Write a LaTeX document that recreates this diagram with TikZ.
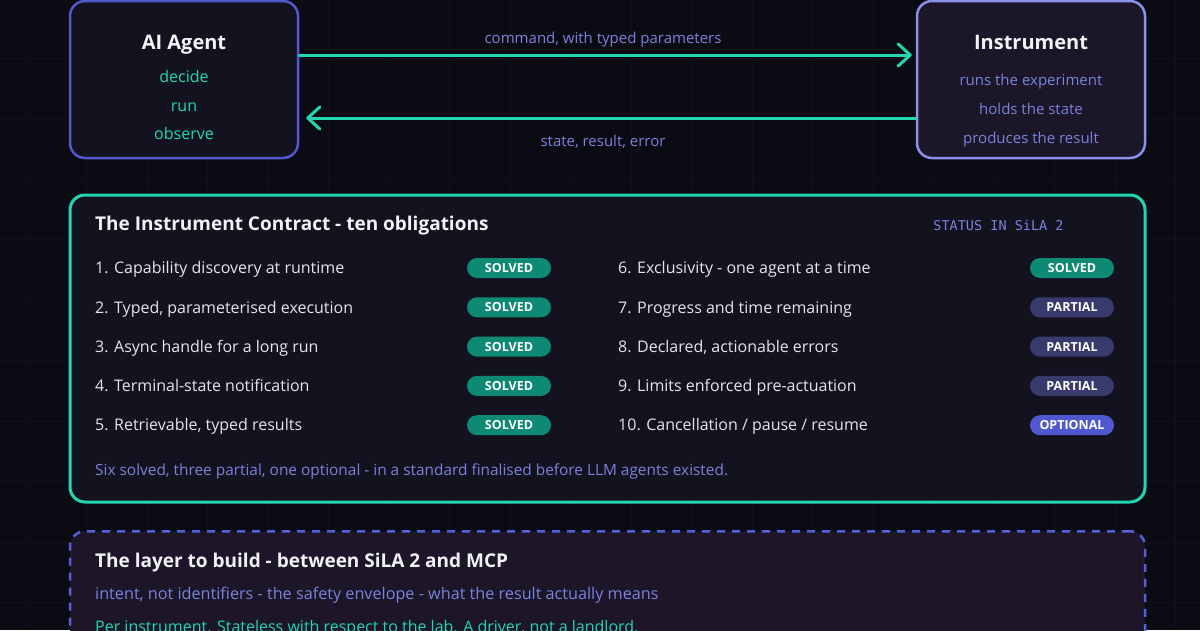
\documentclass[tikz,border=0pt]{standalone}
\usepackage{fontspec}
\setmainfont{Open Sans}
\newfontfamily\monof{DejaVu Sans Mono}
\usetikzlibrary{arrows.meta}
\definecolor{bg}{HTML}{0B0B14}
\definecolor{gridc}{HTML}{11111B}
\definecolor{agentfill}{HTML}{13131F}
\definecolor{agentborder}{HTML}{5159CC}
\definecolor{instrfill}{HTML}{1B1628}
\definecolor{instrborder}{HTML}{8B90EE}
\definecolor{teal}{HTML}{22D6B0}
\definecolor{lav}{HTML}{7B82DC}
\definecolor{whitet}{HTML}{F2F2F7}
\definecolor{itemt}{HTML}{E4E4EC}
\definecolor{solvedc}{HTML}{0E8A74}
\definecolor{partialc}{HTML}{383A6E}
\definecolor{optionalc}{HTML}{5058CF}
\definecolor{layerfill}{HTML}{1C1628}
\definecolor{layerborder}{HTML}{5560D8}
\newcommand\myfs[1]{\fontsize{#1}{#1}\selectfont}
\tikzset{
  box/.style={rectangle, rounded corners=15pt, line width=2.5pt, inner sep=0pt},
  title/.style={inner sep=0pt, text=whitet, font=\myfs{20}\bfseries, text height=14.4pt, text depth=0pt},
  htitle/.style={inner sep=0pt, anchor=west, text=whitet, font=\myfs{19}\bfseries, text height=13.7pt, text depth=0pt},
  sub/.style={inner sep=0pt, font=\myfs{16}, text height=11.5pt, text depth=0pt},
  lbl/.style={inner sep=0pt, text=lav, font=\myfs{15}, text height=10.8pt, text depth=0pt},
  item/.style={inner sep=0pt, anchor=west, text=itemt, font=\myfs{16}, text height=11.5pt, text depth=0pt},
  badge/.style={rectangle, rounded corners=10pt, minimum width=84pt, minimum height=20pt, inner sep=0pt, text=white, font=\myfs{12.5}\bfseries, text height=9pt, text depth=0pt},
  flow/.style={draw=teal, line width=3pt, line cap=round, -{Straight Barb[length=12pt,width=22pt,line width=3pt,round]}},
}
\begin{document}
\begin{tikzpicture}[x=1pt,y=-1pt]
\useasboundingbox (0,0) rectangle (1200,630);
\fill[bg] (0,0) rectangle (1200,630);
\foreach \x in {26,86.5,...,1200} \draw[gridc, line width=1pt] (\x,0) -- (\x,630);
\foreach \y in {-2.5,58,...,640} \draw[gridc, line width=1pt] (0,\y) -- (1200,\y);

% top boxes
\node[box, draw=agentborder, fill=agentfill, minimum width=228pt, minimum height=157pt] (agent) at (184,79.5) {};
\node[box, draw=instrborder, fill=instrfill, minimum width=228pt, minimum height=157pt] (instr) at (1031,79.5) {};
\node[title] (agentT) at (184,42) {AI Agent};
\node[sub, text=teal] (a1) at (184,77) {decide};
\node[sub, text=teal] (a2) at (184,106) {run};
\node[sub, text=teal] (a3) at (184,134) {observe};
\node[title] (instrT) at (1031,42) {Instrument};
\node[lbl] (i1) at (1031,80) {runs the experiment};
\node[lbl] (i2) at (1031,109) {holds the state};
\node[lbl] (i3) at (1031,138) {produces the result};

\draw[flow, shorten >=4pt] ([yshift=24.5pt]agent.east) -- ([yshift=24.5pt]instr.west);
\draw[flow, shorten >=7pt] ([yshift=-38.5pt]instr.west) -- ([yshift=-38.5pt]agent.east);
\node[lbl] (cmd) at (603,38) {command, with typed parameters};
\node[lbl] (ret) at (603,141) {state, result, error};

% contract
\node[box, draw=teal, line width=3pt, fill=agentfill, minimum width=1075pt, minimum height=307pt] (contract) at (607.5,348.5) {};
\node[htitle] (ctitle) at (95,224) {The Instrument Contract - ten obligations};
\node[inner sep=0pt, text=lav, font=\monof\myfs{13.5}, text height=9.8pt, text depth=0pt] (status) at (998.5,226) {STATUS IN SiLA 2};

\foreach \i/\t/\b/\c [count=\k from 0] in {
  1/{1. Capability discovery at runtime}/SOLVED/solvedc,
  2/{2. Typed, parameterised execution}/SOLVED/solvedc,
  3/{3. Async handle for a long run}/SOLVED/solvedc,
  4/{4. Terminal-state notification}/SOLVED/solvedc,
  5/{5. Retrievable, typed results}/SOLVED/solvedc}{
  \node[item] (l\i) at (95,{268+39.3*\k}) {\t};
  \node[badge, fill=\c] (bl\i) at (509,{268+39.3*\k}) {\b};
}
\foreach \i/\t/\b/\c [count=\k from 0] in {
  6/{6. Exclusivity - one agent at a time}/SOLVED/solvedc,
  7/{7. Progress and time remaining}/PARTIAL/partialc,
  8/{8. Declared, actionable errors}/PARTIAL/partialc,
  9/{9. Limits enforced pre-actuation}/PARTIAL/partialc,
  10/{10. Cancellation / pause / resume}/OPTIONAL/optionalc}{
  \node[item] (r\i) at (618,{268+39.3*\k}) {\t};
  \node[badge, fill=\c] (br\i) at (1072,{268+39.3*\k}) {\b};
}
\node[inner sep=0pt, anchor=west, text=lav, font=\myfs{15.4}, text height=11pt, text depth=0pt] (foot) at (95,470) {Six solved, three partial, one optional - in a standard finalised before LLM agents existed.};

% layer
\node[box, draw=layerborder, fill=layerfill, dash pattern=on 8pt off 7pt, minimum width=1075pt, minimum height=200pt, anchor=north] (layer) at (607.5,530) {};
\node[htitle] (ltitle) at (95,561) {The layer to build - between SiLA 2 and MCP};
\node[inner sep=0pt, anchor=west, text=lav, font=\myfs{16.2}, text height=11.6pt, text depth=0pt] (lsub) at (95,594) {intent, not identifiers - the safety envelope - what the result actually means};
\node[inner sep=0pt, anchor=west, text=teal, font=\myfs{16}, text height=11.5pt, text depth=0pt] (lnote) at (95,627) {Per instrument. Stateless with respect to the lab. A driver, not a landlord.};
\end{tikzpicture}
\end{document}
